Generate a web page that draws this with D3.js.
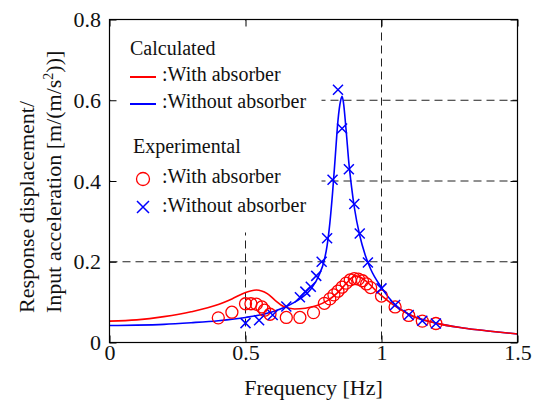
<!DOCTYPE html>
<html>
<head>
<meta charset="utf-8">
<script src="https://cdn.jsdelivr.net/npm/d3@7"></script>
<style>
  html, body { margin: 0; padding: 0; background: #fff; }
  svg { display: block; }
</style>
</head>
<body>
<div id="chart"></div>
<script>
// calculated curves [frequency Hz, response]
const calcWith = [
  [0.00, 0.053], [0.10, 0.056], [0.20, 0.064], [0.30, 0.076], [0.40, 0.094], [0.45, 0.108],
  [0.50, 0.124], [0.54, 0.130], [0.58, 0.121], [0.61, 0.104], [0.64, 0.089], [0.68, 0.083],
  [0.72, 0.085], [0.76, 0.091], [0.80, 0.103], [0.84, 0.124], [0.87, 0.146], [0.89, 0.160],
  [0.905, 0.165], [0.92, 0.162], [0.95, 0.148], [0.98, 0.128], [1.00, 0.116], [1.05, 0.090],
  [1.10, 0.070], [1.20, 0.048], [1.30, 0.036], [1.40, 0.028], [1.50, 0.021]
];
const calcWithout = [
  [0.00, 0.042], [0.10, 0.043], [0.20, 0.045], [0.30, 0.049], [0.40, 0.054], [0.50, 0.062],
  [0.60, 0.076], [0.65, 0.089], [0.70, 0.108], [0.74, 0.132], [0.77, 0.166], [0.79, 0.205],
  [0.80, 0.240], [0.81, 0.295], [0.82, 0.370], [0.83, 0.460], [0.84, 0.550], [0.85, 0.600],
  [0.855, 0.610], [0.86, 0.595], [0.87, 0.525], [0.88, 0.445], [0.89, 0.385], [0.90, 0.335],
  [0.92, 0.265], [0.94, 0.217], [0.96, 0.182], [1.00, 0.136], [1.05, 0.094], [1.10, 0.070],
  [1.20, 0.048], [1.30, 0.036], [1.40, 0.028], [1.50, 0.021]
];

// experimental points
const expWith = [
  [0.40, 0.061], [0.45, 0.075], [0.50, 0.096], [0.52, 0.096], [0.54, 0.095], [0.56, 0.088],
  [0.57, 0.080], [0.59, 0.070], [0.65, 0.062], [0.70, 0.062], [0.75, 0.074], [0.79, 0.097],
  [0.81, 0.108], [0.825, 0.118], [0.84, 0.127], [0.855, 0.137], [0.87, 0.147], [0.885, 0.155],
  [0.90, 0.158], [0.915, 0.157], [0.93, 0.153], [0.945, 0.145], [0.96, 0.136], [1.00, 0.115],
  [1.05, 0.088], [1.10, 0.067], [1.15, 0.053], [1.20, 0.047]
];
const expWithout = [
  [0.50, 0.048], [0.55, 0.055], [0.60, 0.068], [0.65, 0.089], [0.70, 0.112], [0.72, 0.126],
  [0.74, 0.138], [0.76, 0.165], [0.78, 0.200], [0.80, 0.258], [0.82, 0.403], [0.84, 0.626],
  [0.855, 0.530], [0.88, 0.429], [0.90, 0.343], [0.92, 0.270], [0.95, 0.198], [1.00, 0.134],
  [1.05, 0.093], [1.10, 0.068], [1.15, 0.054], [1.20, 0.047]
];

const xTicks = [0, 0.5, 1, 1.5];
const yTicks = [0, 0.2, 0.4, 0.6, 0.8];
const xGrid = [0.5, 1];
const yGrid = [0.2, 0.4, 0.6];

const RED = '#ff0000';
const BLUE = '#0000ff';
const FONT = "'Liberation Serif'";

const W = 537, H = 400;
const plot = { left: 109.5, right: 517.5, top: 19.5, bottom: 342.5 };

const svg = d3.select('#chart').append('svg').attr('width', W).attr('height', H)
  .attr('font-family', FONT);

const x = d3.scaleLinear().domain([0, 1.5]).range([plot.left, plot.right]);
const y = d3.scaleLinear().domain([0, 0.8]).range([plot.bottom, plot.top]);

// dashed grid
const grid = svg.append('g').attr('stroke', '#222').attr('stroke-width', 1).attr('stroke-dasharray', '8,5');
grid.selectAll('line.h').data(yGrid).enter().append('line')
  .attr('x1', plot.left).attr('x2', plot.right)
  .attr('y1', d => y(d)).attr('y2', d => y(d));
grid.selectAll('line.v').data(xGrid).enter().append('line')
  .attr('x1', d => x(d)).attr('x2', d => x(d))
  .attr('y1', plot.top).attr('y2', plot.bottom);

// legend background hides the grid behind it
svg.append('rect').attr('x', plot.left + 1).attr('y', plot.top + 1)
  .attr('width', 211).attr('height', 212).attr('fill', '#fff');

// curves
const line = d3.line().x(d => x(d[0])).y(d => y(d[1])).curve(d3.curveMonotoneX);
svg.append('path').datum(calcWithout).attr('d', line)
  .attr('fill', 'none').attr('stroke', BLUE).attr('stroke-width', 1.6);
svg.append('path').datum(calcWith).attr('d', line)
  .attr('fill', 'none').attr('stroke', RED).attr('stroke-width', 1.6);

// markers
svg.append('g').selectAll('circle').data(expWith).enter().append('circle')
  .attr('cx', d => x(d[0])).attr('cy', d => y(d[1])).attr('r', 6)
  .attr('fill', 'none').attr('stroke', RED).attr('stroke-width', 1.3);

const cross = s => `M${-s},${-s}L${s},${s}M${-s},${s}L${s},${-s}`;
svg.append('g').selectAll('path').data(expWithout).enter().append('path')
  .attr('transform', d => `translate(${x(d[0])},${y(d[1])})`)
  .attr('d', cross(5))
  .attr('fill', 'none').attr('stroke', BLUE).attr('stroke-width', 1.5);

// axes with inward ticks
const styleAxis = g => {
  g.attr('font-family', FONT).attr('font-size', 22);
  g.select('.domain').remove();
  g.selectAll('line').attr('stroke', '#000');
  g.selectAll('text').attr('fill', '#111').attr('font-family', FONT);
};
svg.append('g').attr('transform', `translate(0,${plot.bottom})`)
  .call(d3.axisBottom(x).tickValues(xTicks).tickSize(-7).tickPadding(1.5).tickFormat(d3.format('')))
  .call(styleAxis);
svg.append('g').attr('transform', `translate(${plot.left},0)`)
  .call(d3.axisLeft(y).tickValues(yTicks).tickSize(-7).tickPadding(8.5).tickFormat(d3.format('')))
  .call(styleAxis);
svg.append('g').attr('transform', `translate(0,${plot.top})`)
  .call(d3.axisTop(x).tickValues(xTicks).tickSize(-7).tickFormat(''))
  .call(styleAxis);
svg.append('g').attr('transform', `translate(${plot.right},0)`)
  .call(d3.axisRight(y).tickValues(yTicks).tickSize(-7).tickFormat(''))
  .call(styleAxis);

svg.append('rect').attr('x', plot.left).attr('y', plot.top)
  .attr('width', plot.right - plot.left).attr('height', plot.bottom - plot.top)
  .attr('fill', 'none').attr('stroke', '#000').attr('stroke-width', 1.2);

// axis titles
svg.append('text').attr('x', (plot.left + plot.right) / 2).attr('y', 395)
  .attr('text-anchor', 'middle').attr('font-size', 22).attr('fill', '#111')
  .attr('font-family', FONT)
  .text('Frequency [Hz]');

const yTitle = svg.append('g').attr('transform', 'translate(0,313) rotate(-90)');
yTitle.append('text').attr('x', 0).attr('y', 34).attr('font-size', 22).attr('fill', '#111')
  .attr('font-family', FONT)
  .text('Response displacement/');
const t2 = yTitle.append('text').attr('x', 0).attr('y', 61).attr('font-size', 22).attr('fill', '#111')
  .attr('font-family', FONT);
t2.append('tspan').text('Input acceleration [m/(m/s');
t2.append('tspan').attr('font-size', 14).attr('dy', -8).text('2');
t2.append('tspan').attr('dy', 8).text('))]');

// legend
const legend = svg.append('g').attr('font-size', 20).attr('fill', '#111').attr('font-family', FONT);
const label = (tx, ty, s) => legend.append('text').attr('x', tx).attr('y', ty)
  .attr('font-family', FONT).text(s);
label(130, 55, 'Calculated');
legend.append('line').attr('x1', 130).attr('x2', 156).attr('y1', 77).attr('y2', 77)
  .attr('stroke', RED).attr('stroke-width', 2);
label(162, 81, ':With absorber');
legend.append('line').attr('x1', 130).attr('x2', 156).attr('y1', 104).attr('y2', 104)
  .attr('stroke', BLUE).attr('stroke-width', 2);
label(162, 108, ':Without absorber');

label(133, 153, 'Experimental');
legend.append('circle').attr('cx', 143).attr('cy', 179).attr('r', 6.5)
  .attr('fill', 'none').attr('stroke', RED).attr('stroke-width', 1.3);
label(162, 183, ':With absorber');
legend.append('path').attr('transform', 'translate(143,207)').attr('d', cross(6))
  .attr('fill', 'none').attr('stroke', BLUE).attr('stroke-width', 1.5);
label(162, 212, ':Without absorber');
</script>
</body>
</html>
